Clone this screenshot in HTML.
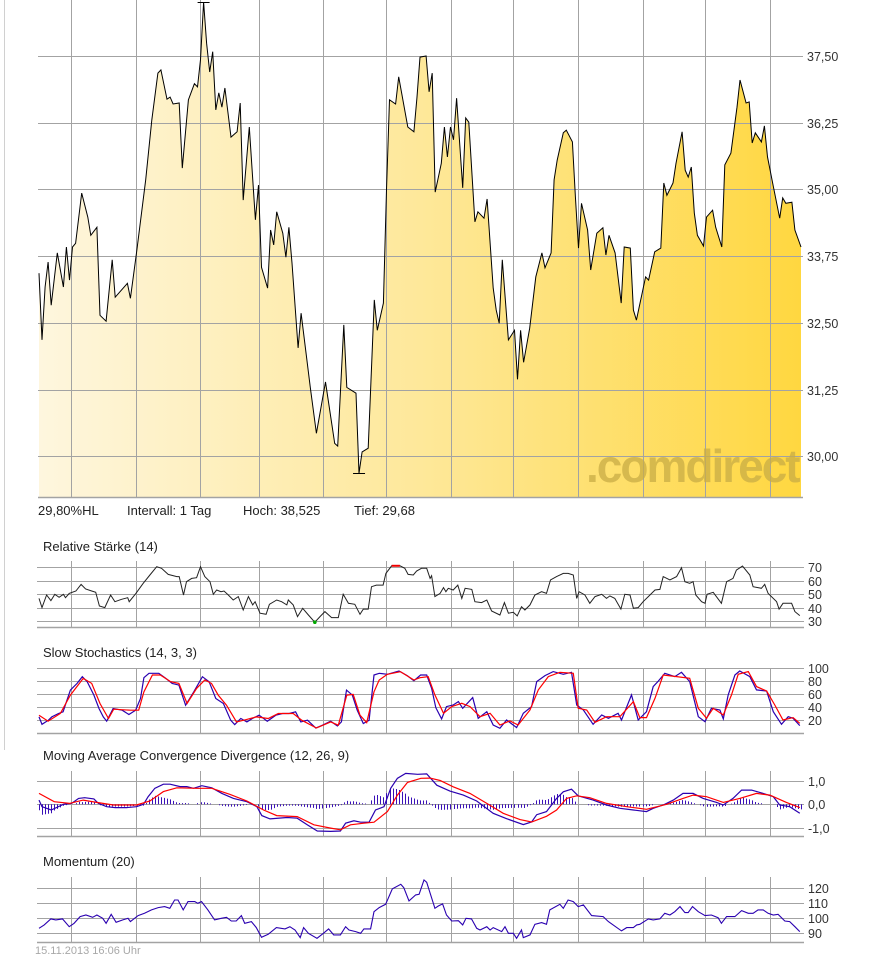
<!DOCTYPE html>
<html><head><meta charset="utf-8"><title>Chart</title>
<style>
html,body{margin:0;padding:0;background:#fff;}
body{width:876px;height:956px;overflow:hidden;font-family:"Liberation Sans",Arial,sans-serif;}
svg text{font-family:"Liberation Sans",Arial,sans-serif;}
</style></head>
<body>
<svg id="chart" width="876" height="956" viewBox="0 0 876 956" xmlns="http://www.w3.org/2000/svg">
<defs>
<linearGradient id="fillGrad" x1="0" y1="0" x2="1" y2="0">
<stop offset="0" stop-color="#fef6de"/>
<stop offset="0.5" stop-color="#fee89a"/>
<stop offset="1" stop-color="#ffd740"/>
</linearGradient>
</defs>
<line x1="4.5" y1="0" x2="4.5" y2="750" stroke="#d0d0d0" stroke-width="1"/>
<g id="main"></g>
<text x="586" y="482" font-size="46" font-weight="bold" letter-spacing="-2" fill="#c8ac45" fill-opacity="0.75">.comdirect</text>
<g id="mainLabels"></g>
<g font-size="13" fill="#222">
<text x="38" y="515">29,80%HL</text>
<text x="127" y="515">Intervall: 1 Tag</text>
<text x="243" y="515">Hoch:  38,525</text>
<text x="354" y="515">Tief:   29,68</text>
</g>
<text x="43" y="551" font-size="13" fill="#222">Relative Stärke (14)</text>
<text x="43" y="657" font-size="13" fill="#222">Slow Stochastics (14, 3, 3)</text>
<text x="43" y="760" font-size="13" fill="#222">Moving Average Convergence Divergence (12, 26, 9)</text>
<text x="43" y="866" font-size="13" fill="#222">Momentum (20)</text>
<g id="subs"></g>
<text x="35" y="954" font-size="11" fill="#a8a8a8">15.11.2013 16:06 Uhr</text>
</svg>
<script>
// ---------- data ----------
const priceDays=[0,1,2,3,4,6,8,9,10,11,12,14,16,17,19,20,22,24,25,29,30,32,35,37,39,40,42,43,44,46,47,49,51,52,53,54,55,56,57,58,59,60,61,63,65,66,67,69,71,72,73,75,76,77,78,80,81,82,83,85,86,89,91,94,97,98,100,101,104,105,106,108,110,111,113,114,115,117,118,121,123,124,125,127,128,129,130,132,133,134,135,136,137,139,140,141,143,144,146,147,149,150,151,152,154,156,157,158,159,161,163,165,166,168,169,170,172,173,175,176,177,178,180,181,183,185,186,187,189,191,192,194,195,196,199,200,202,204,205,206,208,209,211,212,213,214,215,216,218,219,221,222,224,225,227,229,230,232,233,234,235,237,238,239,241,243,244,245,247,248,250];
const priceVals=[33.43,32.18,33.17,33.64,32.83,33.81,33.17,33.92,33.30,33.92,33.99,34.93,34.48,34.14,34.29,32.64,32.53,33.68,32.98,33.24,32.96,33.81,35.18,36.30,37.18,37.24,36.69,36.73,36.60,36.62,35.40,36.68,36.98,36.92,37.43,38.51,37.74,37.20,37.58,36.49,36.81,36.54,36.90,35.98,36.08,36.62,34.80,36.17,34.43,35.08,33.54,33.15,34.24,33.96,34.58,34.18,33.73,34.29,33.62,32.03,32.68,31.29,30.43,31.39,30.24,30.19,32.46,31.29,31.18,29.68,30.08,30.15,32.93,32.36,32.87,34.99,36.68,36.60,37.11,36.17,36.08,36.73,37.48,37.50,36.83,37.18,34.95,35.49,36.17,35.61,36.17,35.93,36.71,35.03,36.34,36.26,34.39,34.58,34.46,34.82,33.15,32.74,32.49,33.68,32.18,32.36,31.44,32.36,31.76,32.40,33.36,33.81,33.53,33.81,35.18,35.55,36.06,36.11,35.89,34.86,33.90,34.74,34.24,33.49,34.18,34.28,33.77,34.14,33.81,32.87,33.92,33.90,32.74,32.55,33.36,33.30,33.83,33.90,35.12,34.89,35.12,35.49,36.08,35.36,35.23,35.42,34.56,34.14,33.94,34.48,34.61,34.29,33.92,35.46,35.68,36.54,37.05,36.62,36.64,35.87,36.06,35.89,36.19,35.61,35.03,34.46,34.84,34.74,34.76,34.24,33.92];
const priceTicks=[37.5,36.25,35,33.75,32.5,31.25,30];
const priceTickLabels=["37,50","36,25","35,00","33,75","32,50","31,25","30,00"];
const monthDays=[10.5,31.8,52.8,72.2,93.2,113.8,135.2,155.5,176.8,198.2,218.5,239.8];

const rsiDays=[0,1,2.5,3.9,5.2,6.6,8,8.7,9.9,12.1,13.8,15.3,17.3,18.6,19.8,21.6,23.5,24.9,27.1,29.1,29.6,31.8,34.2,36.4,38.6,40.2,42.4,45.2,46,47.4,48.4,50.1,51.7,53,54.4,56.1,57.2,58.3,59.7,60.7,62.1,63.7,65.4,67,68.7,70.1,70.9,72.5,74.5,75.6,78,79.6,81.3,81.8,83.4,84.8,86.5,88.4,90.5,92.2,93.8,96,98.2,99.8,101.5,103.6,105.3,106.4,108,109.1,110.7,112.9,113.8,115.7,118.4,120,121.1,122.8,123.9,125.5,127.2,128.3,128.8,129.9,131.6,132.7,133.5,134.3,135.9,137.4,138.7,139.8,142,143,145.2,146.9,148.5,151.2,152.7,154,155.6,156.9,158.3,159.4,161.1,162.7,164.9,166.5,167.8,169.8,172,173.6,175.3,176.4,177.2,179.1,180.7,182.4,184.6,186.2,187.3,188.9,190.9,192.2,193.9,195,196.6,198.2,199.9,202.1,203.7,204.8,207,209.2,210.8,211.9,213.5,214.6,215.5,217.4,218.5,219.2,221.2,223.9,225.6,227.7,228.8,230.8,233.2,234.3,237,238.1,239.2,242,242.8,244.1,246.9,248,249.6];
const rsiVals=[46.9,40.0,49.4,45.2,49.9,47.7,49.9,47.4,50.6,52.4,57.3,53.9,52.4,51.4,41.2,40.0,49.4,44.4,46.2,47.4,44.4,50.6,58.1,64.3,70.5,69.3,64.8,63.1,63.1,49.4,59.3,61.8,62.3,70.5,63.1,59.3,49.9,53.1,51.9,52.4,49.4,45.7,48.2,38.2,48.2,42.0,44.4,35.8,35.0,42.5,45.7,44.4,42.0,45.7,42.0,33.3,39.5,34.5,29.1,33.3,37.0,32.5,32.5,49.9,43.2,42.5,35.0,38.9,38.9,55.6,56.8,56.8,65.5,71.2,71.2,69.3,64.8,64.3,67.3,69.3,69.3,61.8,63.8,48.2,50.6,54.9,51.9,54.4,53.1,56.8,46.9,54.4,53.6,44.4,43.7,45.7,37.5,34.5,43.7,35.8,36.5,33.8,40.7,38.2,42.0,49.4,51.9,50.6,60.6,63.1,65.5,65.5,64.3,46.9,51.9,49.4,43.2,48.2,49.9,46.9,48.7,46.9,38.9,49.9,49.4,39.5,40.0,44.4,48.2,53.1,53.6,63.1,60.6,63.1,69.8,59.3,58.1,59.3,49.4,44.4,43.2,49.9,51.4,43.2,59.3,61.8,68.0,71.0,64.3,55.6,54.4,57.3,50.6,44.4,38.9,43.2,43.2,37.0,34.0];
const rsiTicks=[70,60,50,40,30];

const stochKDays=[0,1,3.1,4.2,6.4,7.9,9,10.3,12.5,14.2,15.8,18,19.7,21.1,22.2,24.3,27.3,29.5,31.7,33.3,34.4,36.1,39.3,41.6,43.7,45.9,48.1,50.8,53.6,55.8,58,60.5,62.9,64.2,66.2,68.2,70,72.2,74.9,77.7,79.9,82.1,84.2,85.9,88.1,90.8,93,95.7,97.9,99.2,100.9,102.8,104.4,106.4,108.3,109.9,111.6,114.3,118.1,120.8,123,125.2,127.2,128.8,130.2,132.1,133.7,135.9,137.6,139,142.3,144.1,146.9,149,151.2,153.4,156.7,158.9,161.6,163.3,166,168.7,172,174.7,176.4,178.6,181.8,184.6,186.8,190,191.1,194.4,196.6,199.3,201.5,203.2,205.3,208.6,210.8,213.5,216.3,218.5,220.6,223.4,224.5,226.1,228.3,229.9,233.2,235.4,238.7,240.9,243.6,245.8,247.4,249.6];
const stochKVals=[25.3,13.9,20.1,25.3,30.4,33.0,48.5,66.5,76.8,87.1,79.4,58.8,38.1,25.3,18.6,38.1,35.6,28.9,35.6,53.6,85.6,92.3,92.3,84.5,76.8,74.2,43.3,63.9,87.1,79.4,53.6,45.9,20.1,13.4,22.7,17.5,22.7,27.8,18.6,27.8,30.4,30.4,33.0,17.5,20.1,8.2,12.4,18.6,11.3,17.5,66.5,58.8,35.6,15.0,20.1,89.7,92.3,90.7,95.9,88.7,80.9,89.7,89.7,69.2,39.5,22.1,41.0,43.6,48.7,38.5,54.9,23.1,33.3,12.8,7.7,20.5,8.7,30.8,41.0,79.5,88.7,94.9,90.8,93.8,43.6,35.9,13.8,28.2,23.1,30.8,20.5,59.0,20.5,33.3,71.8,80.5,92.3,87.2,93.8,79.5,25.6,17.9,38.5,35.9,22.1,59.0,89.7,95.9,87.2,66.7,65.1,33.3,13.8,25.6,23.1,11.8];
const stochDDays=[0,3,7,10.3,14.5,17.3,20,22.8,24.5,30,32.7,34.4,37.2,39.8,43.2,45.9,48.6,51.7,54.4,56.6,58.8,61.5,64.8,68,71.3,75.2,78.5,83.4,86.2,91,95.7,98.2,101,103.1,105.3,107.5,109.9,111.6,114.3,118.6,123,125,127.7,129.9,132.7,135.4,138.7,141.4,144.7,148,151.2,154.5,157.2,161.1,163.8,167.1,170.9,175.3,176.9,179.7,182.4,186.2,190.6,195,197.1,199.3,202.1,204.8,209.2,213.5,216.3,219,221.2,224.5,227.2,229.4,232.7,235.4,238.7,241.4,244.1,247.4,249.6];
const stochDVals=[27.8,18.6,30.4,58.8,84.5,76.8,45.9,22.7,37.1,35.6,35.6,63.9,89.7,89.7,79.4,76.8,45.9,69.1,82.0,76.8,58.8,43.3,17.5,21.1,25.3,22.7,30.4,30.4,20.1,8.2,17.5,12.4,58.8,59.8,27.8,16.5,63.9,82.0,90.7,94.8,82.0,85.6,87.2,59.0,30.8,41.0,46.2,41.0,25.6,30.8,12.8,19.0,12.8,35.9,66.7,87.2,93.8,92.3,38.5,35.9,16.9,25.6,25.6,48.7,24.1,24.1,53.8,89.7,87.2,84.6,38.5,23.1,38.5,28.2,59.0,90.8,94.9,71.8,65.1,43.6,20.5,24.1,15.4];
const stochTicks=[100,80,60,40,20];

const macdDays=[0,1,4,8,10.7,13,15,18,19.5,22.2,25,28.7,32,34.3,35.8,38,40.8,43,46.3,48.5,50.7,53.4,56.7,60,63.8,68.2,71.5,73.1,75.8,81.4,84.7,88,91.3,95.7,98.9,100.6,103.3,105.5,108.3,110.4,113.2,115.4,117.6,120.3,124.2,127.2,130.5,134.8,139.2,143.6,149,153.4,158.9,161.6,163.3,166.5,169.8,172,174.7,176.9,181.8,186.2,190.6,195,199.3,201.5,204.8,208.1,211.3,214.6,217.9,222.3,224.5,227.7,230.5,233.8,237.6,240.9,243,246.3,249.6];
const macdVals=[0.18,-0.10,-0.24,0,0.04,0.25,0.28,0.23,0.04,-0.10,-0.14,-0.14,-0.10,0,0.32,0.68,0.85,0.85,0.75,0.75,0.68,0.79,0.70,0.46,0.25,0.11,-0.10,-0.48,-0.62,-0.56,-0.59,-0.87,-1.13,-1.15,-1.13,-0.80,-0.70,-0.76,-0.76,-0.24,-0.10,0.68,1.10,1.31,1.27,1.29,0.81,0.56,0.39,0.14,-0.38,-0.61,-0.86,-0.75,-0.44,-0.31,0.25,0.53,0.64,0.36,0.18,-0.03,-0.17,-0.24,-0.31,-0.17,-0.03,0.18,0.46,0.46,0.25,0.08,-0.03,0.25,0.60,0.60,0.46,0.32,-0.03,-0.10,-0.38];
const signalDays=[0,5,10,14.5,18.9,24.4,32,36.4,40.8,45.2,51.7,56.7,62.7,68.2,73.7,78,84.7,90.2,95.7,98.9,102.2,106.6,109.9,114.3,117.6,120.9,125.3,128.3,131.6,135.9,141.4,146.9,152.3,157.8,161.6,166.5,169.8,173.1,176.4,180.7,186.2,192.8,199.3,205.9,211.3,214.6,219,224.5,229.9,235.4,239.8,245.2,249.6];
const signalVals=[0.46,0.11,0.04,0.18,0.08,-0.03,-0.03,0.14,0.54,0.70,0.68,0.68,0.42,0.14,-0.24,-0.48,-0.52,-0.87,-1.01,-1.08,-0.87,-0.80,-0.76,-0.31,0.39,0.93,1.10,1.11,1.01,0.74,0.46,0.04,-0.38,-0.65,-0.75,-0.51,-0.24,0.25,0.36,0.28,0.04,-0.10,-0.21,0,0.25,0.39,0.32,0.08,0.25,0.46,0.39,0.08,-0.14];
const macdTicks=[1,0,-1];
const macdTickLabels=["1,0","0,0","-1,0"];

const momDays=[0,1.7,3.9,5.5,7.7,9.9,11.5,13.5,15.4,17.6,19,20.9,22,23.7,25.3,27.5,29.2,30,32.5,34.6,36.9,39.1,41.2,42.9,44.5,45.6,47.3,48.9,51.1,52.1,53.3,55.4,57.6,59.8,61.5,63.1,64.7,66.4,67.5,69.7,71.3,73,75.2,77.9,80.7,82.3,84,85.7,86.8,88.4,91.2,93.3,95,96.7,98.9,100.6,101.7,103.9,105.5,106.6,108.8,109.9,111.6,113.7,115.9,118.7,119.7,121.4,123.6,124.7,126.3,127.2,129.9,131,132.4,133.7,135.4,137.6,139,140.1,141.9,143.6,144.7,146.9,148,149,151.8,152.9,154,155.6,156.7,158.3,158.9,161.1,162.7,164.9,166.5,167.6,170.9,172,173.6,175.3,176.9,178.6,181.3,185.1,186.8,191.1,192.8,195,196.1,197.1,199.9,201.5,203.7,205.3,207,208.6,210.3,211.9,213,214.4,216.3,218.5,220.6,222.8,223.9,225.6,228.3,230.5,232.7,234.3,235.9,237.6,239.2,240.9,242.5,244.7,246.3,248,249.6];
const momVals=[93.3,95.6,99.6,98.9,99.6,94.4,96.7,101.1,102.2,100.7,102.2,100,96.7,102.7,97.3,98.9,100,97.8,101.8,103.3,105.6,107.1,107.8,106.7,112.2,112.2,105.6,111.1,111.1,110,111.1,105.6,98.9,100,100.7,98.2,98.2,101.8,96.7,97.8,93.8,87.3,89.3,93.8,92.9,94.4,92.2,87.1,93.8,90,86.7,90,92.9,88.9,88.9,94.4,92.2,91.1,90,92.9,92.9,104.4,107.1,109.3,119.6,122.7,120.4,111.6,115.6,116,125.6,124,106.7,108.2,109.6,102.2,98.2,98.4,95.6,100,99.6,93.3,92.2,94.4,92.2,93.8,91.1,94.4,90,90,86.7,92.2,87.1,88.9,96,97.1,96,105.6,109.3,106.7,112.2,111.1,107.8,108.9,101.8,101.1,97.8,91.6,93.8,93.8,95.6,96,99.6,98.9,99.6,103.3,102.2,104.4,107.8,103.8,103.8,107.8,104.4,101.8,102.2,100.4,96.7,101.1,101.1,105.1,103.3,103.3,105.6,105.6,103.3,102.2,102.7,98.2,97.8,94.4,91.1];
const momTicks=[120,110,100,90];

// ---------- axes ----------
const X0=39, X1=801, DMAX=250;
const xs=d=>X0+d*(X1-X0)/DMAX;
const yPrice=p=>56+(37.5-p)*(66.7/1.25);
const yRsi=v=>621-(v-30)*1.34;
const yStoch=v=>733.3-v*0.65;
const yMacd=v=>804.3-v*23.6;
const yMom=v=>918.3-(v-100)*1.5;
const NS="http://www.w3.org/2000/svg";
const svg=document.getElementById('chart');
function mk(tag,attrs,parent){const e=document.createElementNS(NS,tag);for(const k in attrs)e.setAttribute(k,attrs[k]);(parent||svg).appendChild(e);return e;}
function pathFrom(days,vals,yf){return days.map((d,i)=>(i?'L':'M')+xs(d).toFixed(1)+','+yf(vals[i]).toFixed(1)).join('');}
function interp(days,vals,d){if(d<=days[0])return vals[0];for(let i=1;i<days.length;i++){if(d<=days[i]){const t=(d-days[i-1])/(days[i]-days[i-1]);return vals[i-1]+t*(vals[i]-vals[i-1]);}}return vals[vals.length-1];}

const GRID="#a3a3a3";
function panelGrid(g,top,bottom,tickVals,yf,labels,name){
  tickVals.forEach((v,i)=>{
    const y=Math.round(yf(v))+0.5;
    const l=mk('line',{x1:37,y1:y,x2:804,y2:y,stroke:GRID,'stroke-width':1},g);
    
    
    const t=mk('text',{x:808,y:y+4.5,'font-size':12.5,fill:'#333'},g);
    t.textContent=labels?labels[i]:String(v);
    
    
  });
  const b=mk('line',{x1:37,y1:bottom+0.5,x2:804,y2:bottom+0.5,stroke:GRID,'stroke-width':1.5},g);
  
  
  monthDays.forEach(d=>{
    const x=Math.round(xs(d))+0.5;
    const l=mk('line',{x1:x,y1:top,x2:x,y2:bottom,stroke:GRID,'stroke-width':1},g);
    
    
  });
}

// ---------- main price panel ----------
const main=document.getElementById('main');
const fillD=pathFrom(priceDays,priceVals,yPrice)+'L'+xs(priceDays[priceDays.length-1]).toFixed(1)+',497L'+xs(priceDays[0]).toFixed(1)+',497Z';
const area=mk('path',{d:fillD,fill:'url(#fillGrad)',stroke:'none'},main);


const mg=mk('g',{},main);


priceTicks.forEach((v,i)=>{
  const y=Math.round(yPrice(v))+0.5;
  const l=mk('line',{x1:38,y1:y,x2:803,y2:y,stroke:GRID,'stroke-width':1},mg);
  
  
  const t=mk('text',{x:807,y:y+4.5,'font-size':12.5,fill:'#333'},document.getElementById('mainLabels'));
  t.textContent=priceTickLabels[i];
  
  
});
const mb=mk('line',{x1:38,y1:497.5,x2:803,y2:497.5,stroke:GRID,'stroke-width':1.5},mg);


monthDays.forEach(d=>{
  const x=Math.round(xs(d))+0.5;
  const l=mk('line',{x1:x,y1:0,x2:x,y2:497,stroke:GRID,'stroke-width':1},mg);
  
  
});
const pl=mk('path',{d:pathFrom(priceDays,priceVals,yPrice),fill:'none',stroke:'#000','stroke-width':1},main);


let hi=0,lo=0;priceVals.forEach((v,i)=>{if(v>priceVals[hi])hi=i;if(v<priceVals[lo])lo=i;});
[[hi,'high-marker'],[lo,'low-marker']].forEach(([i,n])=>{
  const x=xs(priceDays[i]),y=Math.round(yPrice(priceVals[i]))+0.5;
  const m=mk('line',{x1:x-6,y1:y,x2:x+6,y2:y,stroke:'#000','stroke-width':1},main);
  
  
});

// ---------- sub panels ----------
const subs=document.getElementById('subs');
function panel(name){const g=mk('g',{},subs);return g;}

const rsiG=panel('rsi-panel');
panelGrid(rsiG,561,627,rsiTicks,yRsi,null,'rsi');
const rl=mk('path',{d:pathFrom(rsiDays,rsiVals,yRsi),fill:'none',stroke:'#222','stroke-width':1},rsiG);


for(let i=1;i<rsiVals.length;i++){
  if(rsiVals[i]>71&&rsiVals[i-1]>71){
    const s=mk('line',{x1:xs(rsiDays[i-1]),y1:yRsi(rsiVals[i-1]),x2:xs(rsiDays[i]),y2:yRsi(rsiVals[i]),stroke:'#e00','stroke-width':2},rsiG);
    
    
  }
}
rsiVals.forEach((v,i)=>{
  if(v<30){
    const c=mk('circle',{cx:xs(rsiDays[i]),cy:yRsi(v),r:1.8,fill:'#0a0'},rsiG);
    
    
  }
});

const stG=panel('stochastics-panel');
panelGrid(stG,668,733,stochTicks,yStoch,null,'stoch');
const sk=mk('path',{d:pathFrom(stochKDays,stochKVals,yStoch),fill:'none',stroke:'#2a00b0','stroke-width':1.2},stG);


const sd=mk('path',{d:pathFrom(stochDDays,stochDVals,yStoch),fill:'none',stroke:'#ff0000','stroke-width':1.2},stG);



const mcG=panel('macd-panel');
panelGrid(mcG,771,836,macdTicks,yMacd,macdTickLabels,'macd');
for(let d=0;d<=DMAX;d++){
  const h=interp(macdDays,macdVals,d)-interp(signalDays,signalVals,d);
  if(Math.abs(h)<0.03)continue;
  const x=Math.round(xs(d))+0.5;
  const b=mk('line',{x1:x,y1:yMacd(0),x2:x,y2:yMacd(h*0.9),stroke:'#3a10b8','stroke-width':1},mcG);
  
  
}
const ml=mk('path',{d:pathFrom(macdDays,macdVals,yMacd),fill:'none',stroke:'#2a00b0','stroke-width':1.2},mcG);


const sl=mk('path',{d:pathFrom(signalDays,signalVals,yMacd),fill:'none',stroke:'#ff0000','stroke-width':1.2},mcG);



const moG=panel('momentum-panel');
panelGrid(moG,877,942,momTicks,yMom,null,'momentum');
const mo=mk('path',{d:pathFrom(momDays,momVals,yMom),fill:'none',stroke:'#2a00b0','stroke-width':1.1},moG);


</script>
</body></html>
